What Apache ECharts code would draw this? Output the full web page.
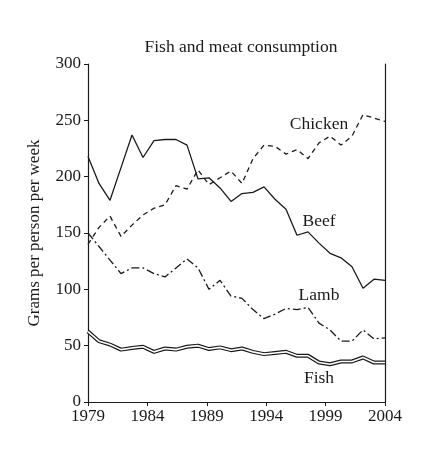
<!DOCTYPE html>
<html>
<head>
<meta charset="utf-8">
<script src="https://cdn.jsdelivr.net/npm/echarts@6/dist/echarts.min.js"></script>
<style>
  html, body { margin: 0; padding: 0; background: #fff; }
  #main { width: 446px; height: 476px; }
</style>
</head>
<body>
<div id="main"></div>
<script>
// readings are taken along the plotted points, 28 of them from 1979 to 2004
const periods = ['1979', '', '', '', '', '', '', '', '', '', '', '', '', '', '', '', '', '', '', '', '', '', '', '', '', '', '', '2004'];
const beef = [218, 194, 179, 208, 237, 217, 232, 233, 233, 228, 198, 199, 190, 178, 185, 186, 191, 180, 171, 148, 151, 141, 132, 128, 120, 101, 109, 108];
const chicken = [140, 155, 165, 147, 157, 166, 172, 175, 192, 189, 206, 193, 199, 205, 194, 216, 228, 227, 220, 224, 216, 230, 236, 228, 236, 255, 252, 249];
const lamb = [150, 138, 126, 114, 119, 119, 114, 111, 119, 127, 119, 100, 108, 94, 92, 82, 74, 78, 83, 82, 84, 70, 64, 54, 54, 64, 56, 57];
const fish = [62.5, 54, 51, 46.5, 48, 49, 44.5, 47.5, 46.5, 49, 50, 47, 48.5, 46, 47.5, 44.5, 42.5, 43.5, 44.5, 41, 41, 35, 33.5, 36, 36, 39.5, 35, 35];

const ink = '#1a1a1a';
const serif = '"Liberation Serif", "DejaVu Serif", serif';

const chart = echarts.init(document.getElementById('main'));

// series name written next to its line
function tag(name, idx, val) {
  return {
    silent: true,
    symbol: 'circle',
    symbolSize: 1,
    itemStyle: { color: 'rgba(0,0,0,0)' },
    label: { show: true, position: 'inside', formatter: name, color: ink, fontFamily: serif, fontSize: 17.5 },
    data: [{ coord: [idx, val] }]
  };
}

chart.setOption({
  animation: false,
  backgroundColor: '#fff',
  title: {
    text: 'Fish and meat consumption',
    left: 236, top: 33, textAlign: 'center',
    textStyle: { fontFamily: serif, fontSize: 17.5, fontWeight: 'normal', color: ink }
  },
  grid: { left: 88, right: 61, top: 64, bottom: 74 },
  xAxis: [
    { type: 'category', data: periods, boundaryGap: false, show: false },
    {
      type: 'value', position: 'bottom', min: 0, max: 25, interval: 5,
      axisLine: { lineStyle: { color: ink, width: 1.2 } },
      axisTick: { length: 4, lineStyle: { color: ink } },
      splitLine: { show: false },
      axisLabel: { formatter: v => String(1979 + v), color: ink, fontFamily: serif, fontSize: 17, margin: 6 }
    }
  ],
  yAxis: [
    {
      type: 'value', min: 0, max: 300, interval: 50,
      name: 'Grams per person per week', nameLocation: 'middle', nameGap: 45,
      nameTextStyle: { fontFamily: serif, fontSize: 17, color: ink },
      axisLine: { show: true, lineStyle: { color: ink, width: 1.2 } },
      axisTick: { show: true, length: 4, lineStyle: { color: ink } },
      splitLine: { show: false },
      axisLabel: { color: ink, fontFamily: serif, fontSize: 17, margin: 7 }
    },
    {
      type: 'value', min: 0, max: 300, position: 'right',
      axisLine: { show: true, lineStyle: { color: ink, width: 1.2 } },
      axisTick: { show: false }, axisLabel: { show: false }, splitLine: { show: false }
    }
  ],
  series: [
    {
      name: 'Beef', type: 'line', data: beef, symbol: 'none',
      lineStyle: { color: ink, width: 1.3 },
      markPoint: tag('Beef', 21, 160)
    },
    {
      name: 'Chicken', type: 'line', data: chicken, symbol: 'none',
      lineStyle: { color: ink, width: 1.3, type: [5, 4] },
      markPoint: tag('Chicken', 21, 246)
    },
    {
      name: 'Lamb', type: 'line', data: lamb, symbol: 'none',
      lineStyle: { color: ink, width: 1.3, type: [8, 3, 2, 3] },
      markPoint: tag('Lamb', 21, 95)
    },
    {
      name: 'Fish', type: 'line', data: fish, symbol: 'none',
      lineStyle: { color: ink, width: 4 },
      markPoint: tag('Fish', 21, 21)
    },
    {
      name: 'Fish inner', type: 'line', data: fish, symbol: 'none', silent: true,
      lineStyle: { color: '#fff', width: 1.6 }
    }
  ]
});
</script>
</body>
</html>
